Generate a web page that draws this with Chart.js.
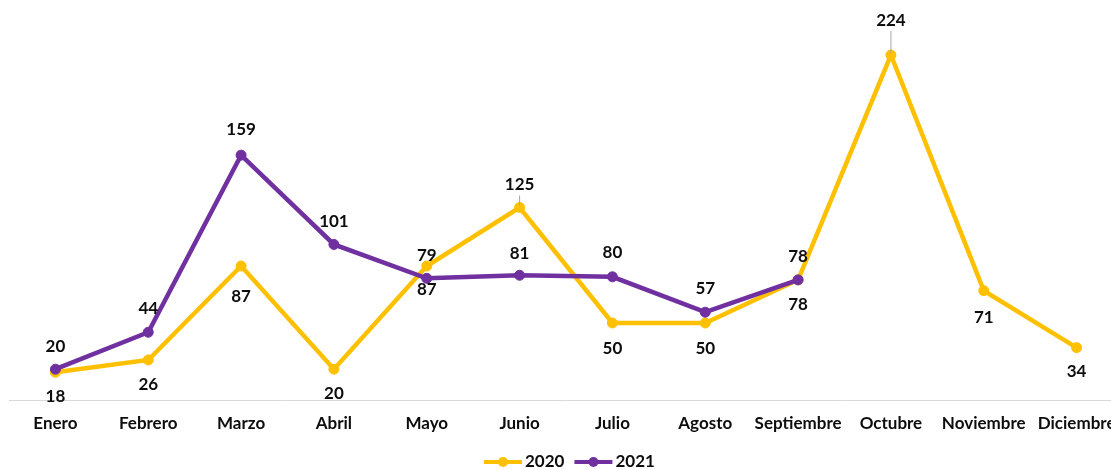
<!DOCTYPE html>
<html>
<head>
<meta charset="utf-8">
<script src="https://cdn.jsdelivr.net/npm/chart.js@4/dist/chart.umd.min.js"></script>
<style>
  html, body { margin: 0; padding: 0; background: #fff; overflow: hidden; }
  .wrap { position: relative; width: 1129px; height: 470px; }
</style>
</head>
<body>
<div class="wrap"><canvas id="chart"></canvas></div>
<script>
const months = ["Enero", "Febrero", "Marzo", "Abril", "Mayo", "Junio", "Julio", "Agosto", "Septiembre", "Octubre", "Noviembre", "Diciembre"];
const values2020 = [18, 26, 87, 20, 87, 125, 50, 50, 78, 224, 71, 34];
const values2021 = [20, 44, 159, 101, 79, 81, 80, 57, 78, null, null, null];

const yellow = "#FFC000";
const purple = "#7030A0";
const font = "Lato";

// where each value label goes: +above / -below, distance from the point
const labelPos2020 = [-24, -25, -30, -24, -23, 23, -26, -26, -25, 35, -27, -24];
const labelPos2021 = [23, 24, 26, 23, 23, 22, 24, 24, 23, 0, 0, 0];
const leaders2020 = [false, false, false, false, false, true, false, false, false, true, false, false];

const valueLabels = {
    id: "valueLabels",
    afterDatasetsDraw(chart) {
        const ctx = chart.ctx;
        ctx.save();
        ctx.font = "bold 17px " + font;
        ctx.textAlign = "center";
        ctx.textBaseline = "middle";
        chart.data.datasets.forEach((ds, i) => {
            const meta = chart.getDatasetMeta(i);
            meta.data.forEach((pt, j) => {
                const v = ds.data[j];
                if (v === null) return;
                const off = ds.labelPos[j];
                const y = pt.y - off;
                if (ds.leaders && ds.leaders[j]) {
                    ctx.strokeStyle = "#a6a6a6";
                    ctx.lineWidth = 1;
                    ctx.beginPath();
                    ctx.moveTo(pt.x, y + 11);
                    ctx.lineTo(pt.x, pt.y - 2);
                    ctx.stroke();
                }
                ctx.fillStyle = "#0d0d0d";
                ctx.fillText(String(v), pt.x, y);
            });
        });
        ctx.restore();
    }
};

const lineLegend = {
    id: "lineLegend",
    afterDraw(chart) {
        const ctx = chart.ctx;
        const y = 462;
        let x = 484;
        ctx.save();
        ctx.font = "bold 17px " + font;
        ctx.textBaseline = "middle";
        chart.data.datasets.slice().reverse().forEach(ds => {
            ctx.strokeStyle = ds.borderColor;
            ctx.lineWidth = 4;
            ctx.beginPath();
            ctx.moveTo(x, y);
            ctx.lineTo(x + 38, y);
            ctx.stroke();
            ctx.fillStyle = ds.borderColor;
            ctx.beginPath();
            ctx.arc(x + 19, y, 5, 0, Math.PI * 2);
            ctx.fill();
            ctx.fillStyle = "#0d0d0d";
            ctx.fillText(ds.label, x + 41, y);
            x += 41 + ctx.measureText(ds.label).width + 10;
        });
        ctx.restore();
    }
};

new Chart(document.getElementById("chart"), {
    type: "line",
    data: {
        labels: months,
        datasets: [
            {
                label: "2021",
                data: values2021,
                borderColor: purple,
                backgroundColor: purple,
                borderWidth: 4.5,
                pointRadius: 5,
                pointBorderWidth: 1,
                order: 0,
                labelPos: labelPos2021
            },
            {
                label: "2020",
                data: values2020,
                borderColor: yellow,
                backgroundColor: yellow,
                borderWidth: 4.5,
                pointRadius: 5,
                pointBorderWidth: 1,
                order: 1,
                labelPos: labelPos2020,
                leaders: leaders2020
            }
        ]
    },
    options: {
        responsive: true,
        maintainAspectRatio: false,
        animation: false,
        layout: { padding: { left: 9, right: 0, top: 15, bottom: 0 } },
        plugins: {
            legend: { display: false },
            tooltip: { enabled: false }
        },
        scales: {
            x: {
                offset: true,
                grid: { display: false, drawTicks: false },
                border: { color: "#d9d9d9", width: 1 },
                ticks: {
                    color: "#0d0d0d",
                    font: { family: font, size: 17, weight: "bold" },
                    padding: 13,
                    maxRotation: 0,
                    autoSkip: false
                },
                afterFit(scale) { scale.height = 70; }
            },
            y: {
                display: false,
                min: 0,
                max: 250
            }
        }
    },
    plugins: [valueLabels, lineLegend]
});
</script>
</body>
</html>
